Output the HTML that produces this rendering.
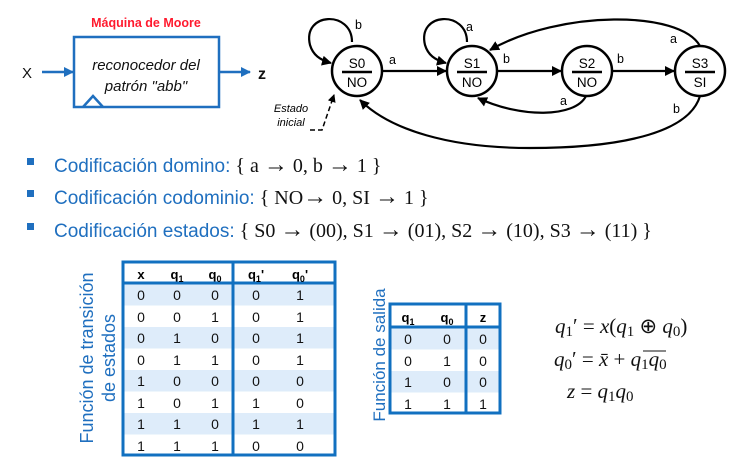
<!DOCTYPE html>
<html><head><meta charset="utf-8"><style>
html,body{margin:0;padding:0;background:#fff;}
svg{display:block;}
.sans{font-family:"Liberation Sans",Arial,sans-serif;}
.serif{font-family:"Liberation Serif","Times New Roman",serif;}
</style></head><body>
<svg width="756" height="459" viewBox="0 0 756 459" xmlns="http://www.w3.org/2000/svg">
<defs>
<marker id="ab" markerWidth="10" markerHeight="10" refX="9" refY="5" orient="auto" markerUnits="userSpaceOnUse"><path d="M0,0 L10,5 L0,10 z" fill="#000"/></marker>
<marker id="abl" markerWidth="10" markerHeight="10" refX="9" refY="5" orient="auto" markerUnits="userSpaceOnUse"><path d="M0,0 L10,5 L0,10 z" fill="#1f6fbf"/></marker>
<marker id="as" markerWidth="8" markerHeight="8" refX="7" refY="4" orient="auto" markerUnits="userSpaceOnUse"><path d="M0,0 L8,4 L0,8 z" fill="#000"/></marker>
</defs>

<!-- Moore block -->
<text x="146" y="27" text-anchor="middle" class="sans" font-size="12.5" font-weight="bold" fill="#ff1a2e">Máquina de Moore</text>
<rect x="74" y="37" width="145" height="70" fill="none" stroke="#1f6fbf" stroke-width="2.5"/>
<polyline points="83,107 93,96 103,107" fill="none" stroke="#1f6fbf" stroke-width="2.5"/>
<text x="146" y="70" text-anchor="middle" class="sans" font-size="15" font-style="italic" fill="#111">reconocedor del</text>
<text x="146" y="91" text-anchor="middle" class="sans" font-size="15" font-style="italic" fill="#111">patrón "abb"</text>
<text x="22" y="78" class="sans" font-size="15" fill="#111">X</text>
<line x1="42" y1="72" x2="73" y2="72" stroke="#1f6fbf" stroke-width="2.5" marker-end="url(#abl)"/>
<line x1="219" y1="72" x2="250" y2="72" stroke="#1f6fbf" stroke-width="2.5" marker-end="url(#abl)"/>
<text x="258" y="79" class="sans" font-size="16" font-weight="bold" fill="#111">z</text>

<!-- States -->
<g stroke="#000" stroke-width="2.5" fill="#fff">
<circle cx="357" cy="71" r="25"/>
<circle cx="472" cy="71" r="25"/>
<circle cx="587" cy="71" r="25"/>
<circle cx="700" cy="71" r="25"/>
</g>
<g stroke="#000" stroke-width="2.5">
<line x1="342" y1="72" x2="372" y2="72"/>
<line x1="457" y1="72" x2="487" y2="72"/>
<line x1="572" y1="72" x2="602" y2="72"/>
<line x1="685" y1="72" x2="715" y2="72"/>
</g>
<g class="sans" font-size="13.5" text-anchor="middle" fill="#000">
<text x="357" y="68">S0</text><text x="357" y="87">NO</text>
<text x="472" y="68">S1</text><text x="472" y="87">NO</text>
<text x="587" y="68">S2</text><text x="587" y="87">NO</text>
<text x="700" y="68">S3</text><text x="700" y="87">SI</text>
</g>

<!-- Transitions -->
<g fill="none" stroke="#000" stroke-width="2.2">
<path d="M352,42 C352,10 302,12 310,45 C313,55 320,60 331,63" marker-end="url(#ab)"/>
<path d="M467,42 C467,10 417,12 425,45 C428,55 435,60 446,63" marker-end="url(#ab)"/>
<line x1="382" y1="71" x2="446" y2="71" marker-end="url(#ab)"/>
<line x1="497" y1="71" x2="561" y2="71" marker-end="url(#ab)"/>
<line x1="612" y1="71" x2="674" y2="71" marker-end="url(#ab)"/>
<path d="M586,96 C575,118 520,118 478,98" marker-end="url(#ab)"/>
<path d="M700,46 C680,10 560,10 490,50" marker-end="url(#ab)"/>
<path d="M700,96 C690,130 630,148 530,148 C450,148 390,130 360,100" marker-end="url(#ab)"/>
<path d="M310,130 L322,130 L334,95" stroke-width="1.5" stroke-dasharray="5,3" marker-end="url(#as)"/>
</g>
<g class="sans" font-size="12.5" fill="#000">
<text x="355" y="29">b</text>
<text x="466" y="31">a</text>
<text x="389" y="64">a</text>
<text x="503" y="63">b</text>
<text x="617" y="63">b</text>
<text x="560" y="105">a</text>
<text x="670" y="43">a</text>
<text x="673" y="113">b</text>
</g>
<text x="291" y="112" text-anchor="middle" class="sans" font-size="11" font-style="italic">Estado</text>
<text x="291" y="126" text-anchor="middle" class="sans" font-size="11" font-style="italic">inicial</text>

<!-- Bullets -->
<g fill="#1f6fbf">
<rect x="27" y="158" width="7" height="7"/>
<rect x="27" y="190" width="7" height="7"/>
<rect x="27" y="223" width="7" height="7"/>
</g>
<text x="54" y="172" font-size="19"><tspan class="sans" fill="#1f6fbf">Codificación domino:</tspan><tspan class="serif" fill="#111" font-size="20">  { a <tspan font-size="24">→</tspan> 0, b <tspan font-size="24">→</tspan> 1 }</tspan></text>
<text x="54" y="204" font-size="19"><tspan class="sans" fill="#1f6fbf">Codificación codominio:</tspan><tspan class="serif" fill="#111" font-size="20">  { NO<tspan font-size="24">→</tspan> 0, SI <tspan font-size="24">→</tspan> 1 }</tspan></text>
<text x="54" y="237" font-size="19"><tspan class="sans" fill="#1f6fbf">Codificación estados:</tspan><tspan class="serif" fill="#111" font-size="20">  { S0 <tspan font-size="24">→</tspan> (00), S1 <tspan font-size="24">→</tspan> (01), S2 <tspan font-size="24">→</tspan> (10), S3 <tspan font-size="24">→</tspan> (11)  }</tspan></text>

<!-- Table 1 -->
<text transform="translate(93,358) rotate(-90)" text-anchor="middle" class="sans" font-size="18" fill="#1f6fbf">Función de transición</text>
<text transform="translate(115,358) rotate(-90)" text-anchor="middle" class="sans" font-size="18" fill="#1f6fbf">de estados</text>
<g fill="#deecfa">
<rect x="124" y="284" width="210" height="21.5"/>
<rect x="124" y="327" width="210" height="21.5"/>
<rect x="124" y="370" width="210" height="21.5"/>
<rect x="124" y="413" width="210" height="21.5"/>
</g>
<rect x="123" y="262" width="212" height="193" fill="none" stroke="#1170c0" stroke-width="3"/>
<line x1="233" y1="262" x2="233" y2="455" stroke="#1170c0" stroke-width="3"/>
<line x1="123" y1="283" x2="335" y2="283" stroke="#1170c0" stroke-width="3"/>
<g class="sans" font-size="13" font-weight="bold" text-anchor="middle">
<text x="141" y="279">x</text>
<text x="177" y="279">q<tspan font-size="9" dy="3">1</tspan></text>
<text x="215" y="279">q<tspan font-size="9" dy="3">0</tspan></text>
<text x="256" y="279">q<tspan font-size="9" dy="3">1</tspan><tspan dy="-3">'</tspan></text>
<text x="300" y="279">q<tspan font-size="9" dy="3">0</tspan><tspan dy="-3">'</tspan></text>
</g>
<g class="sans" font-size="14" text-anchor="middle" fill="#111">
<text x="141" y="300">0</text><text x="177" y="300">0</text><text x="215" y="300">0</text><text x="256" y="300">0</text><text x="300" y="300">1</text>
<text x="141" y="322">0</text><text x="177" y="322">0</text><text x="215" y="322">1</text><text x="256" y="322">0</text><text x="300" y="322">1</text>
<text x="141" y="343">0</text><text x="177" y="343">1</text><text x="215" y="343">0</text><text x="256" y="343">0</text><text x="300" y="343">1</text>
<text x="141" y="365">0</text><text x="177" y="365">1</text><text x="215" y="365">1</text><text x="256" y="365">0</text><text x="300" y="365">1</text>
<text x="141" y="386">1</text><text x="177" y="386">0</text><text x="215" y="386">0</text><text x="256" y="386">0</text><text x="300" y="386">0</text>
<text x="141" y="408">1</text><text x="177" y="408">0</text><text x="215" y="408">1</text><text x="256" y="408">1</text><text x="300" y="408">0</text>
<text x="141" y="429">1</text><text x="177" y="429">1</text><text x="215" y="429">0</text><text x="256" y="429">1</text><text x="300" y="429">1</text>
<text x="141" y="451">1</text><text x="177" y="451">1</text><text x="215" y="451">1</text><text x="256" y="451">0</text><text x="300" y="451">0</text>
</g>

<!-- Table 2 -->
<text transform="translate(385,355) rotate(-90)" text-anchor="middle" class="sans" font-size="17" fill="#1f6fbf">Función de salida</text>
<g fill="#deecfa">
<rect x="391" y="328" width="108" height="21.5"/>
<rect x="391" y="371" width="108" height="21.5"/>
</g>
<rect x="390" y="304" width="110" height="109" fill="none" stroke="#1170c0" stroke-width="3"/>
<line x1="466" y1="304" x2="466" y2="413" stroke="#1170c0" stroke-width="3"/>
<line x1="390" y1="327" x2="500" y2="327" stroke="#1170c0" stroke-width="3"/>
<g class="sans" font-size="13" font-weight="bold" text-anchor="middle">
<text x="408" y="322">q<tspan font-size="9" dy="3">1</tspan></text>
<text x="447" y="322">q<tspan font-size="9" dy="3">0</tspan></text>
<text x="483" y="322">z</text>
</g>
<g class="sans" font-size="14" text-anchor="middle" fill="#111">
<text x="408" y="344">0</text><text x="447" y="344">0</text><text x="483" y="344">0</text>
<text x="408" y="366">0</text><text x="447" y="366">1</text><text x="483" y="366">0</text>
<text x="408" y="387">1</text><text x="447" y="387">0</text><text x="483" y="387">0</text>
<text x="408" y="409">1</text><text x="447" y="409">1</text><text x="483" y="409">1</text>
</g>

<!-- Equations -->
<g class="serif" font-size="21" fill="#111">
<text x="555" y="333"><tspan font-style="italic">q</tspan><tspan font-size="15" dy="3">1</tspan><tspan dy="-3">′ = </tspan><tspan font-style="italic">x</tspan>(<tspan font-style="italic">q</tspan><tspan font-size="15" dy="3">1</tspan><tspan dy="-3"> ⊕ </tspan><tspan font-style="italic">q</tspan><tspan font-size="15" dy="3">0</tspan><tspan dy="-3">)</tspan></text>
<text x="554" y="366"><tspan font-style="italic">q</tspan><tspan font-size="15" dy="3">0</tspan><tspan dy="-3">′ = </tspan><tspan font-style="italic">x̄</tspan> + <tspan font-style="italic">q</tspan><tspan font-size="15" dy="3">1</tspan><tspan dy="-3" font-style="italic">q</tspan><tspan font-size="15" dy="3">0</tspan></text>
<text x="567" y="398"><tspan font-style="italic">z</tspan> = <tspan font-style="italic">q</tspan><tspan font-size="15" dy="3">1</tspan><tspan dy="-3" font-style="italic">q</tspan><tspan font-size="15" dy="3">0</tspan></text>
</g>
<line x1="643" y1="351" x2="666" y2="351" stroke="#111" stroke-width="1"/>
</svg>
</body></html>
